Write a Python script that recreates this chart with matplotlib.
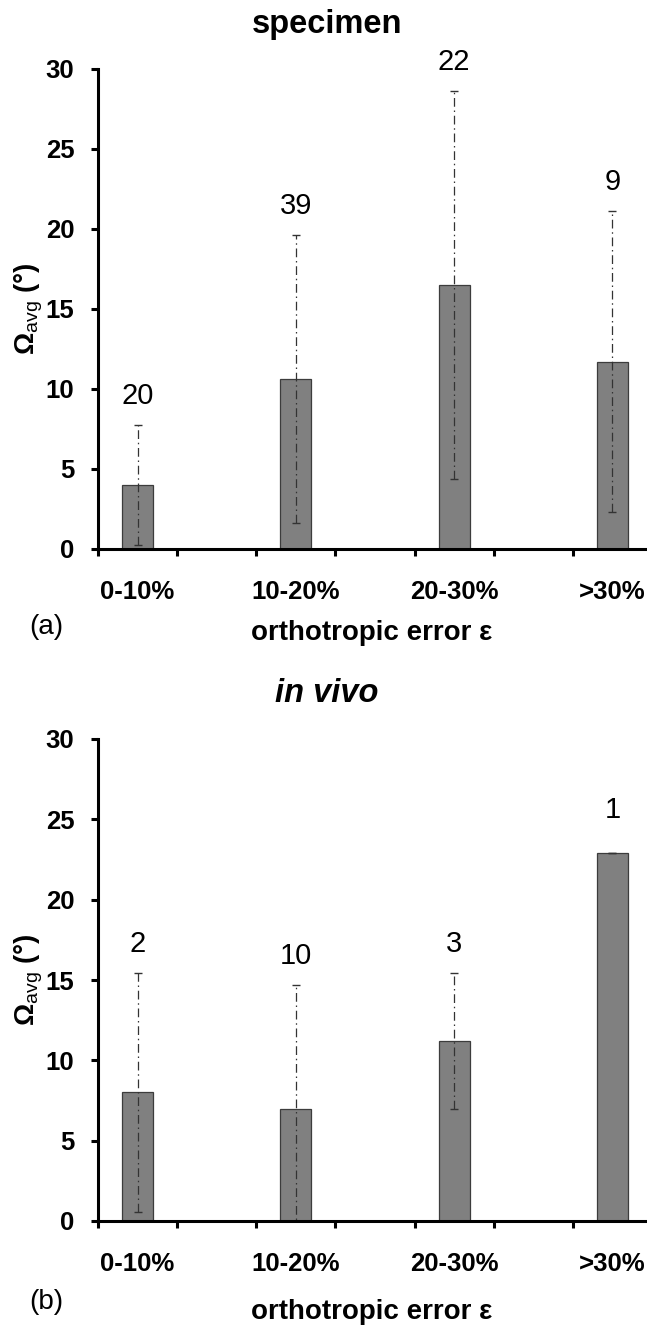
import matplotlib
matplotlib.use("Agg")
import matplotlib.pyplot as plt
import numpy as np

plt.rcParams["font.family"] = ["Liberation Sans", "DejaVu Sans"]
plt.rcParams["mathtext.fontset"] = "custom"
plt.rcParams["mathtext.rm"] = "Liberation Sans"
plt.rcParams["mathtext.bf"] = "Liberation Sans:bold"
plt.rcParams["mathtext.it"] = "Liberation Sans:bold"

# data
categories = ["0-10%", "10-20%", "20-30%", ">30%"]
spec_mean = [4.0, 10.6, 16.5, 11.7]
spec_err = [3.75, 9.0, 12.1, 9.4]
spec_n = [20, 39, 22, 9]
vivo_mean = [8.0, 7.0, 11.2, 22.9]
vivo_err = [7.45, 7.7, 4.25, 0.0]
vivo_n = [2, 10, 3, 1]

W, H = 647, 1330
fig = plt.figure(figsize=(W / 100, H / 100), dpi=100)

BAR = "#808080"
EDGE = "#3c3c3c"
ERR = "#333333"


def panel(top_px, bottom_px, mean, err, counts, title, title_style, tag,
          tag_dy, xlab_dy):
    left, right = 98, 652
    ax = fig.add_axes([left / W, 1 - bottom_px / H,
                       (right - left) / W, (bottom_px - top_px) / H])
    x = np.arange(len(categories)) * 2
    ax.bar(x, mean, width=0.39, color=BAR, edgecolor=EDGE, linewidth=0.9,
           zorder=2)
    eb = ax.errorbar(x, mean, yerr=err, fmt="none", ecolor=ERR,
                     elinewidth=0.9, capsize=3.2, capthick=1.0, zorder=3)
    for lc in eb[2]:
        lc.set_linestyle((0, (7, 3, 1.2, 3)))
    for xi, m, e, n in zip(x, mean, err, counts):
        dy = 21 if e > 0 else 31
        ax.annotate(str(n), (xi, m + e), xytext=(0, dy),
                    textcoords="offset points", ha="center", va="center",
                    fontsize=21)

    ax.set_xlim(-0.5, 6.5)
    ax.set_ylim(0, 30)
    ax.set_yticks(np.arange(0, 31, 5))
    ax.set_xticks(np.arange(-0.5, 6.0, 1.0))
    ax.set_xticklabels([])
    ax.set_xticks(x, minor=True)
    ax.set_xticklabels(categories, minor=True, fontsize=18.5,
                       fontweight="bold")
    ax.tick_params(axis="x", which="minor", length=0, pad=22.5)
    ax.tick_params(axis="x", which="major", length=5, width=2.2,
                   direction="out")
    ax.tick_params(axis="y", length=5, width=2.2, direction="out", pad=12,
                   labelsize=18.5)
    for lab in ax.get_yticklabels():
        lab.set_fontweight("bold")
    for s in ("top", "right"):
        ax.spines[s].set_visible(False)
    for s in ("left", "bottom"):
        ax.spines[s].set_linewidth(2.2)

    fig.text(327 / W, 1 - (top_px - 45) / H, title, ha="center",
             va="center", fontsize=23.5, fontweight="bold",
             style=title_style)
    fig.text(29 / W, 1 - ((top_px + bottom_px) / 2) / H,
             r"$\mathbf{\Omega}_{\mathrm{avg}}$ (°)", rotation=90,
             ha="center", va="center", fontsize=20, fontweight="bold")
    fig.text(46 / W, 1 - (bottom_px + tag_dy) / H, tag, ha="center",
             va="center", fontsize=20)
    fig.text(372 / W, 1 - (bottom_px + xlab_dy) / H, "orthotropic error ε",
             ha="center", va="center", fontsize=20, fontweight="bold")
    return ax


panel(69, 549, spec_mean, spec_err, spec_n, "specimen", "normal", "(a)",
      78, 84)
panel(739, 1221, vivo_mean, vivo_err, vivo_n, "in vivo", "italic", "(b)",
      81, 91)

fig.savefig("out.png", dpi=100)
